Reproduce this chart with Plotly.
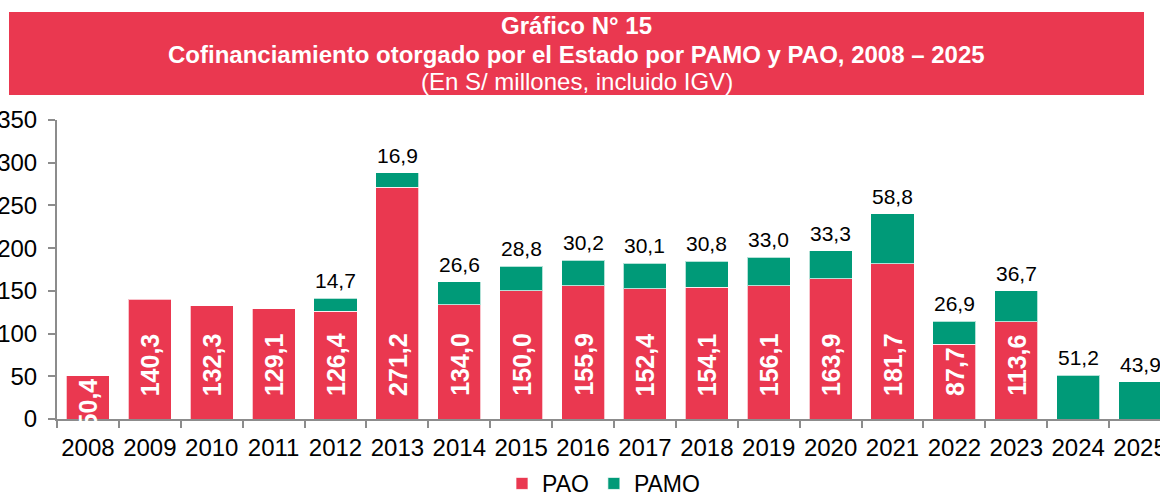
import plotly.graph_objects as go

years = ["2008", "2009", "2010", "2011", "2012", "2013", "2014", "2015", "2016",
         "2017", "2018", "2019", "2020", "2021", "2022", "2023", "2024", "2025"]
pao = [50.4, 140.3, 132.3, 129.1, 126.4, 271.2, 134.0, 150.0, 155.9,
       152.4, 154.1, 156.1, 163.9, 181.7, 87.7, 113.6, None, None]
pamo = [None, None, None, None, 14.7, 16.9, 26.6, 28.8, 30.2,
        30.1, 30.8, 33.0, 33.3, 58.8, 26.9, 36.7, 51.2, 43.9]
y_ticks = [0, 50, 100, 150, 200, 250, 300, 350]

RED = "#EA3850"
GREEN = "#009A78"
FONT = "Liberation Sans, Arial, sans-serif"

W, H = 1160, 494
ML, MR, MT, MB = 57, 0, 120, 75
plot_w = W - ML - MR
plot_h = H - MT - MB
Y_MAX = 350
px_per_unit = plot_h / Y_MAX

IN_SIZE = 25        # inside (PAO) label font size
BASE_OFFSET = 21    # px between bar base and inside label (Excel "inside base")


def fmt(v):
    return f"{v:.1f}".replace(".", ",")


def text_len(s, size):
    # approximate advance width (Arial metrics)
    return sum((0.278 if ch == "," else 0.556) for ch in s) * size


fig = go.Figure()
fig.add_trace(go.Bar(
    x=years, y=pao, name="PAO",
    marker=dict(color=RED, line=dict(color="rgba(255,255,255,0.7)", width=1)),
    hoverinfo="skip",
))
fig.add_trace(go.Bar(
    x=years, y=pamo, name="PAMO",
    marker=dict(color=GREEN, line=dict(color="rgba(255,255,255,0.7)", width=1)),
    hoverinfo="skip",
))

annotations = []
# PAO labels: white bold rotated, inside base (or pinned to the top if too short)
for i, a in enumerate(pao):
    if a is None:
        continue
    s = fmt(a)
    fits = a * px_per_unit >= text_len(s, IN_SIZE) + BASE_OFFSET
    annotations.append(dict(
        x=i, y=0 if fits else a, xref="x", yref="y", text=f"<b>{s}</b>",
        showarrow=False, textangle=-90,
        yanchor="bottom" if fits else "top", yshift=BASE_OFFSET if fits else 0,
        font=dict(family=FONT, size=IN_SIZE, color="white"),
    ))

# PAMO labels above the stack
for i, (a, b) in enumerate(zip(pao, pamo)):
    if b is None:
        continue
    total = (a or 0) + b
    annotations.append(dict(
        x=i, y=total, xref="x", yref="y", text=fmt(b), showarrow=False,
        yanchor="bottom", yshift=4,
        font=dict(family=FONT, size=21, color="black"),
    ))

# Title block
cx = (576.5 - ML) / plot_w


def py(pix):
    return (H - MB - pix) / plot_h


annotations += [
    dict(x=cx, y=py(25), xref="paper", yref="paper", showarrow=False,
         text="<b>Gráfico N° 15</b>", yanchor="middle", xanchor="center",
         font=dict(family=FONT, size=24, color="white")),
    dict(x=cx, y=py(54.5), xref="paper", yref="paper", showarrow=False,
         text="<b>Cofinanciamiento otorgado por el Estado por PAMO y PAO, 2008 – 2025</b>",
         yanchor="middle", xanchor="center",
         font=dict(family=FONT, size=24, color="white")),
    dict(x=cx, y=py(81), xref="paper", yref="paper", showarrow=False,
         text="(En S/ millones, incluido IGV)", yanchor="middle", xanchor="center",
         font=dict(family=FONT, size=24, color="white")),
]

shapes = [dict(type="rect", xref="paper", yref="paper",
               x0=(9 - ML) / plot_w, x1=(1144 - ML) / plot_w,
               y0=py(95), y1=py(12), fillcolor=RED, line=dict(width=0), layer="below")]

fig.update_layout(
    width=W, height=H,
    margin=dict(l=ML, r=MR, t=MT, b=MB, autoexpand=False),
    barmode="stack", bargap=0.305,
    separators=",.",
    plot_bgcolor="white", paper_bgcolor="white",
    font=dict(family=FONT, color="black"),
    annotations=annotations, shapes=shapes,
    showlegend=True,
    legend=dict(orientation="h", x=(502 - ML) / plot_w, xanchor="left",
                y=py(462), yanchor="top",
                traceorder="normal",
                font=dict(family=FONT, size=23, color="black"),
                bgcolor="rgba(0,0,0,0)"),
    xaxis=dict(
        type="category", tickangle=0,
        range=[-0.5, 17.5 - 11 / 61.9], tickson="boundaries", ticks="outside",
        ticklen=7, tickcolor="#8c8c8c", tickwidth=2,
        showline=True, linecolor="#8c8c8c", linewidth=2,
        tickfont=dict(family=FONT, size=24, color="black"),
        showgrid=False, fixedrange=True, ticklabelstandoff=6,
    ),
    yaxis=dict(
        range=[0, Y_MAX], tickvals=y_ticks, ticks="outside", ticklen=7,
        tickcolor="#8c8c8c", tickwidth=2,
        showline=True, linecolor="#8c8c8c", linewidth=2,
        tickfont=dict(family=FONT, size=24, color="black"),
        showgrid=False, zeroline=False, fixedrange=True, ticklabelstandoff=6,
    ),
)

fig.write_html("out.html", config={"displayModeBar": False},
               post_script="document.body.style.margin='0';")
